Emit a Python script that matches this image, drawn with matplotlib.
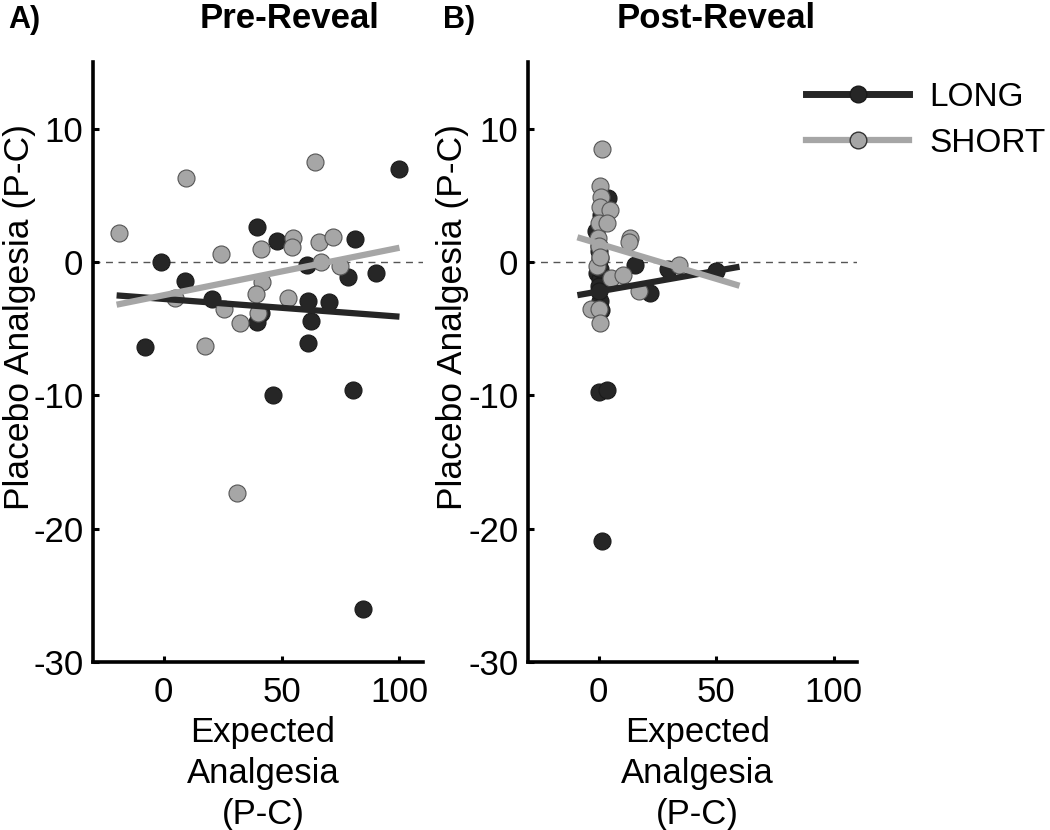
import matplotlib.pyplot as plt
import numpy as np
from matplotlib.lines import Line2D

plt.rcParams['font.family'] = ['Liberation Sans', 'DejaVu Sans']
plt.rcParams['axes.unicode_minus'] = False

# Pre-Reveal data (expected analgesia, placebo analgesia)
pre_long_x = [100, 39.7, 47.9, 81.1, -1, 60.6, 90, 78, 9.2, 20.3,
              61.3, 70, 41.1, 39.4, 62.4, -8.1, 61, 46.4, 80.4, 84.4]
pre_long_y = [7.0, 2.6, 1.6, 1.7, 0.0, -0.2, -0.8, -1.1, -1.4, -2.8,
              -2.9, -3.0, -3.8, -4.5, -4.4, -6.4, -6.1, -10.0, -9.6, -26.0]
pre_short_x = [-19.1, 9.5, 64.3, 24.1, 41.1, 55.0, 54.3, 66, 71.6, 66.7,
               74.7, 41.8, 39, 4.7, 52.9, 25.5, 40.1, 32.2, 17.7, 30.9]
pre_short_y = [2.2, 6.3, 7.5, 0.6, 1.0, 1.8, 1.1, 1.5, 1.9, 0.0,
               -0.3, -1.5, -2.4, -2.7, -2.7, -3.5, -3.8, -4.6, -6.3, -17.3]

# Post-Reveal data
post_long_x = [4.1, -1, 15.4, 29.5, 50, 0.5, -0.5, 0.6, 0, 21.7,
               0.6, 0.1, 3.4, 1.6, 0, 0.5, 1, 0.2, 1, 0]
post_long_y = [4.8, 2.3, -0.2, -0.5, -0.7, 0.3, -0.8, -1.3, -1.8, -2.3,
               -2.9, -9.75, -9.6, -20.9, 1.2, -0.5, 3.5, -2.2, -3.6, 0.8]
post_short_x = [1.3, 0.6, 1, 0.6, 4.8, 0.3, 3.4, -0.1, 13.3, 12.8,
                0.1, 34.2, -0.8, 5.5, 10.4, 17.1, -3, 0.1, 0.6, 0.8]
post_short_y = [8.5, 5.7, 4.9, 4.1, 3.9, 2.9, 2.9, 1.8, 1.8, 1.5,
                1.2, -0.2, -0.3, -1.2, -1.0, -2.2, -3.5, -3.5, -4.6, 0.4]

# regression lines (intercept, slope) and x range
pre_long_fit = (-2.77, -0.0133)
pre_short_fit = (-2.49, 0.0356)
pre_fit_range = (-20, 100)
post_long_fit = (-2.21, 0.0309)
post_short_fit = (1.38, -0.0527)
post_fit_range = (-9, 60)

dark = '#262626'
light = '#a6a6a6'

fig = plt.figure(figsize=(10.5, 8.3), dpi=100)
ax1 = fig.add_axes([0.0886, 0.2024, 0.3143, 0.7229])
ax2 = fig.add_axes([0.5029, 0.2024, 0.3133, 0.7229])


def draw_panel(ax, lx, ly, sx, sy, lfit, sfit, rng):
    ax.axhline(0, color='#555555', lw=1, ls=(0, (5, 4)), zorder=1)
    ax.scatter(lx, ly, s=150, color=dark, edgecolor='#1a1a1a', lw=0.8, zorder=2)
    ax.scatter(sx, sy, s=150, color=light, edgecolor='#555555', lw=0.8, zorder=3)
    xx = np.array(rng)
    ax.plot(xx, lfit[0] + lfit[1] * xx, color=dark, lw=4.5, zorder=4,
            solid_capstyle='butt')
    ax.plot(xx, sfit[0] + sfit[1] * xx, color=light, lw=4.5, zorder=5,
            solid_capstyle='butt')
    ax.set_xlim(-30, 110)
    ax.set_ylim(-30, 15)
    ax.set_xticks([0, 50, 100])
    ax.set_yticks([-30, -20, -10, 0, 10])
    for s in ['top', 'right']:
        ax.spines[s].set_visible(False)
    for s in ['left', 'bottom']:
        ax.spines[s].set_linewidth(2.6)
    ax.tick_params(direction='in', length=4, width=2.2, labelsize=25)
    ax.tick_params(axis='x', pad=10)
    ax.tick_params(axis='y', pad=7)
    ax.set_ylabel('Placebo Analgesia (P-C)', fontsize=25.5)
    ax.set_xlabel('Expected\nAnalgesia\n(P-C)', fontsize=25, linespacing=1.3)
    ax.yaxis.set_label_coords(-0.172, 0.575)
    ax.xaxis.set_label_coords(0.515, -0.09)


draw_panel(ax1, pre_long_x, pre_long_y, pre_short_x, pre_short_y,
           pre_long_fit, pre_short_fit, pre_fit_range)
draw_panel(ax2, post_long_x, post_long_y, post_short_x, post_short_y,
           post_long_fit, post_short_fit, post_fit_range)
ax2.yaxis.set_label_coords(-0.18, 0.575)

fig.text(290 / 1050, 1 - 18 / 830, 'Pre-Reveal', fontsize=25, fontweight='bold',
         ha='center', va='center')
fig.text(716 / 1050, 1 - 18 / 830, 'Post-Reveal', fontsize=25, fontweight='bold',
         ha='center', va='center')
fig.text(8 / 1050, 1 - 20 / 830, 'A)', fontsize=22, fontweight='bold',
         ha='left', va='center')
fig.text(443 / 1050, 1 - 20 / 830, 'B)', fontsize=22, fontweight='bold',
         ha='left', va='center')

handles = [
    Line2D([], [], color=dark, lw=5, marker='o', markersize=12,
           markerfacecolor=dark, markeredgecolor='#1a1a1a'),
    Line2D([], [], color=light, lw=4.5, marker='o', markersize=12,
           markerfacecolor=light, markeredgecolor='#333333'),
]
fig.legend(handles, ['LONG', 'SHORT'], loc='upper left',
           bbox_to_anchor=(806 / 1050, 1 - 82 / 830), frameon=False,
           fontsize=24, handlelength=3.1, handletextpad=0.6,
           labelspacing=0.45, borderpad=0, borderaxespad=0)

fig.savefig('out.png', dpi=100)
